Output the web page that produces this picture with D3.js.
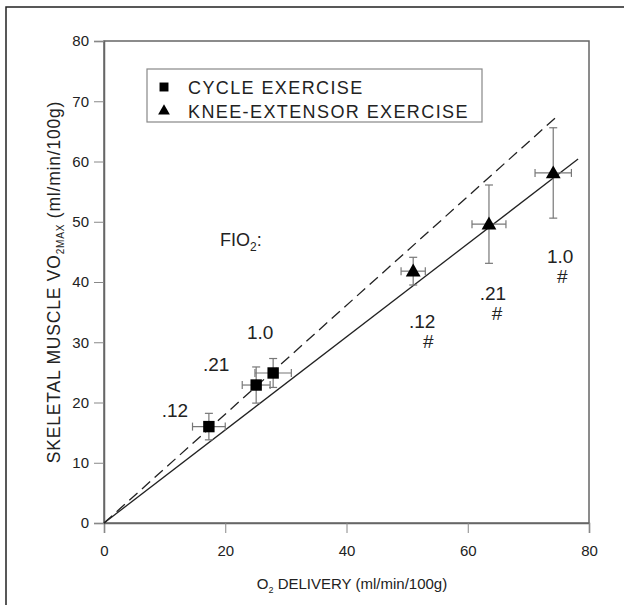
<!DOCTYPE html>
<html>
<head>
<meta charset="utf-8">
<script src="https://cdn.jsdelivr.net/npm/d3@7"></script>
<style>
  html, body { margin: 0; padding: 0; background: #fff; }
  svg { display: block; }
  text { font-family: "Liberation Sans", Arial, sans-serif; fill: #222; }
</style>
</head>
<body>
<svg id="chart" width="624" height="605"></svg>
<script>
// Skeletal muscle VO2max vs O2 delivery, by FIO2 level
const xTicks = [0, 20, 40, 60, 80];
const yTicks = [0, 10, 20, 30, 40, 50, 60, 70, 80];

const fio2Labels = [".12", ".21", "1.0"];

// cycle exercise (squares)
const cycleX    = [17.3, 25.1, 27.9];
const cycleY    = [16.0, 22.9, 24.9];
const cycleXErr = [2.7, 2.3, 3.0];
const cycleYErr = [2.2, 3.0, 2.4];

// knee-extensor exercise (triangles)
const kneeX    = [51.0, 63.5, 74.1];
const kneeY    = [41.8, 49.6, 58.1];
const kneeXErr = [2.0, 2.8, 3.0];
const kneeYErr = [2.3, 6.5, 7.5];

// regression lines through the origin: [x0, y0, x1, y1]
const solidLine  = [0, 0, 78.2, 60.4];
const dashedLine = [0, 0, 74.4, 67.2];

const svg = d3.select("#chart");
const x = d3.scaleLinear().domain([0, 80]).range([104, 589]);
const y = d3.scaleLinear().domain([0, 80]).range([523, 41]);

// outer frame (left and top edges)
svg.append("path").attr("d", "M6,605 V7 H624")
  .attr("fill", "none").attr("stroke", "#222").attr("stroke-width", 1.5);

// plot box
svg.append("rect")
  .attr("x", x(0)).attr("y", y(80))
  .attr("width", x(80) - x(0)).attr("height", y(0) - y(80))
  .attr("fill", "none").attr("stroke", "#666").attr("stroke-width", 1.5);

// axes
const xAxis = svg.append("g").attr("transform", `translate(0,${y(0)})`)
  .call(d3.axisBottom(x).tickValues(xTicks).tickSize(10).tickPadding(12).tickFormat(d3.format("d")));
const yAxis = svg.append("g").attr("transform", `translate(${x(0)},0)`)
  .call(d3.axisLeft(y).tickValues(yTicks).tickSize(10).tickPadding(5).tickFormat(d3.format("d")));
[xAxis, yAxis].forEach(g => {
  g.select(".domain").attr("stroke", "#666").attr("stroke-width", 1.5);
  g.selectAll(".tick line").attr("stroke", "#888").attr("stroke-width", 1);
  g.selectAll(".tick text").attr("font-size", 15).attr("fill", "#333")
    .style("font-family", "'Liberation Sans', Arial, sans-serif");
});

// fitted lines
svg.append("line")
  .attr("x1", x(solidLine[0])).attr("y1", y(solidLine[1]))
  .attr("x2", x(solidLine[2])).attr("y2", y(solidLine[3]))
  .attr("stroke", "#222").attr("stroke-width", 1.3);
svg.append("line")
  .attr("x1", x(dashedLine[0])).attr("y1", y(dashedLine[1]))
  .attr("x2", x(dashedLine[2])).attr("y2", y(dashedLine[3]))
  .attr("stroke", "#222").attr("stroke-width", 1.3).attr("stroke-dasharray", "11,6");

// error bars
function errorBars(xs, ys, xe, ye) {
  const g = svg.append("g").attr("stroke", "#777").attr("stroke-width", 1.2);
  const cap = 4;
  xs.forEach((xv, i) => {
    const cx = x(xv), cy = y(ys[i]);
    const xl = x(xv - xe[i]), xr = x(xv + xe[i]);
    const yt = y(ys[i] + ye[i]), yb = y(ys[i] - ye[i]);
    g.append("line").attr("x1", xl).attr("x2", xr).attr("y1", cy).attr("y2", cy);
    g.append("line").attr("x1", xl).attr("x2", xl).attr("y1", cy - cap).attr("y2", cy + cap);
    g.append("line").attr("x1", xr).attr("x2", xr).attr("y1", cy - cap).attr("y2", cy + cap);
    g.append("line").attr("x1", cx).attr("x2", cx).attr("y1", yt).attr("y2", yb);
    g.append("line").attr("x1", cx - cap).attr("x2", cx + cap).attr("y1", yt).attr("y2", yt);
    g.append("line").attr("x1", cx - cap).attr("x2", cx + cap).attr("y1", yb).attr("y2", yb);
  });
}
errorBars(cycleX, cycleY, cycleXErr, cycleYErr);
errorBars(kneeX, kneeY, kneeXErr, kneeYErr);

// markers
const sq = d3.symbol().type(d3.symbolSquare).size(130);
const tri = d3.symbol().type(d3.symbolTriangle).size(95);
cycleX.forEach((xv, i) => {
  svg.append("path").attr("d", sq())
    .attr("transform", `translate(${x(xv)},${y(cycleY[i])})`).attr("fill", "#000");
});
kneeX.forEach((xv, i) => {
  svg.append("path").attr("d", tri())
    .attr("transform", `translate(${x(xv)},${y(kneeY[i]) + 1})`).attr("fill", "#000");
});

// FIO2 labels
const lblSize = 19;
const cycleLabelOffsets = [[-34, -10], [-40, -14], [-13, -34]];
cycleX.forEach((xv, i) => {
  svg.append("text")
    .attr("x", x(xv) + cycleLabelOffsets[i][0]).attr("y", y(cycleY[i]) + cycleLabelOffsets[i][1])
    .attr("text-anchor", "middle").attr("font-size", lblSize).text(fio2Labels[i]);
});
const kneeLabelOffsets = [[9, 57], [4, 76], [7, 90]];
const hashOffsets = [6, 4, 2];
kneeX.forEach((xv, i) => {
  const tx = x(xv) + kneeLabelOffsets[i][0], ty = y(kneeY[i]) + kneeLabelOffsets[i][1];
  svg.append("text").attr("x", tx).attr("y", ty)
    .attr("text-anchor", "middle").attr("font-size", lblSize).text(fio2Labels[i]);
  svg.append("text").attr("x", tx + hashOffsets[i]).attr("y", ty + 20)
    .attr("text-anchor", "middle").attr("font-size", lblSize).text("#");
});

// "FIO2:" heading
const fio = svg.append("text").attr("x", 220).attr("y", 246).attr("font-size", 18);
fio.append("tspan").text("FIO");
fio.append("tspan").attr("font-size", 12).attr("dy", 5).text("2");
fio.append("tspan").attr("dy", -5).text(":");

// legend
const lg = svg.append("g");
lg.append("rect").attr("x", 147).attr("y", 69).attr("width", 335).attr("height", 53)
  .attr("fill", "#fff").attr("stroke", "#888").attr("stroke-width", 1.2);
lg.append("path").attr("d", sq.size(80)()).attr("transform", "translate(164,87)").attr("fill", "#000");
lg.append("path").attr("d", tri.size(60)()).attr("transform", "translate(164,111)").attr("fill", "#000");
lg.append("text").attr("x", 188).attr("y", 94).attr("font-size", 18)
  .attr("letter-spacing", 1.4).text("CYCLE EXERCISE");
lg.append("text").attr("x", 188).attr("y", 118).attr("font-size", 18)
  .attr("letter-spacing", 1.4).text("KNEE-EXTENSOR EXERCISE");

// x axis title
const xt = svg.append("text").attr("x", 352).attr("y", 589)
  .attr("text-anchor", "middle").attr("font-size", 15);
xt.append("tspan").text("O");
xt.append("tspan").attr("font-size", 9).attr("dy", 4).text("2");
xt.append("tspan").attr("dy", -4).text(" DELIVERY (ml/min/100g)");

// y axis title
const yt = svg.append("text")
  .attr("transform", `translate(60,${(y(0) + y(80)) / 2}) rotate(-90)`)
  .attr("text-anchor", "middle").attr("font-size", 17.5).attr("letter-spacing", 0.8);
yt.append("tspan").text("SKELETAL MUSCLE VO");
yt.append("tspan").attr("font-size", 10).attr("dy", 4).text("2MAX");
yt.append("tspan").attr("dy", -4).text(" (ml/min/100g)");
</script>
</body>
</html>
